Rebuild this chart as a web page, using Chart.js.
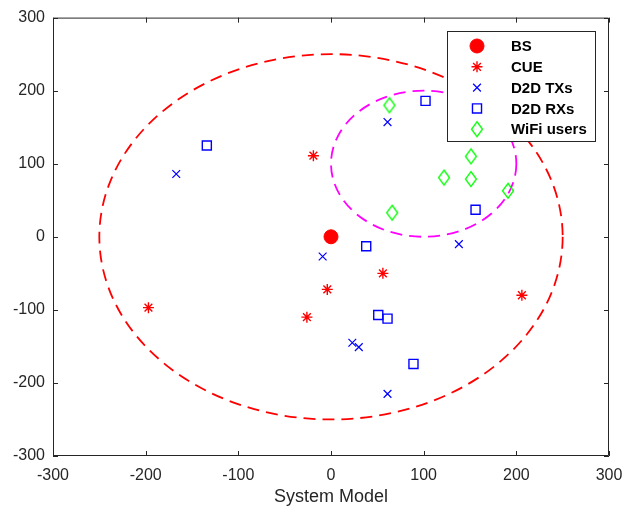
<!DOCTYPE html>
<html>
<head>
<meta charset="utf-8">
<title>System Model</title>
<script src="https://cdn.jsdelivr.net/npm/chart.js@4"></script>
<style>
  html, body { margin: 0; padding: 0; background: #fff; }
  #wrap { width: 622px; height: 508px; }
</style>
</head>
<body>
<div id="wrap"><canvas id="sysChart" width="622" height="508"></canvas></div>
<script>
// posisi node (meter)
const bsX = [0];
const bsY = [0];
const cueX = [-19, -197, -4, -26, 56, 206];
const cueY = [111, -97, -72, -110, -50, -80];
const txX = [-167, -9, 61, 138, 23, 30, 61];
const txY = [86, -27, 157, -10, -145, -151, -215];
const rxX = [-134, 102, 156, 38, 51, 61, 89];
const rxY = [125, 186, 37, -13, -107, -112, -174];
const wifiX = [63, 151, 122, 151, 191, 66];
const wifiY = [180, 110, 81, 79, 63, 33];

const legendLabels = ["BS", "CUE", "D2D TXs", "D2D RXs", "WiFi users"];
const axisTicks = [-300, -200, -100, 0, 100, 200, 300];

// lingkaran cakupan: [cx, cy, r]
const cellCircle = [0, 0, 250];
const wifiCircle = [100, 100, 100];

const FONT = "'Liberation Sans', Arial, Helvetica, sans-serif";
const AXIS_COLOR = "#262626";

function pts(xs, ys) {
  return xs.map((x, i) => ({ x: x, y: ys[i] }));
}

// diamond memanjang ala MATLAB
function makeDiamond(color) {
  const c = document.createElement("canvas");
  c.width = 14; c.height = 18;
  const g = c.getContext("2d");
  g.strokeStyle = color;
  g.lineWidth = 1.3;
  g.beginPath();
  g.moveTo(7, 1.5);
  g.lineTo(12.5, 9);
  g.lineTo(7, 16.5);
  g.lineTo(1.5, 9);
  g.closePath();
  g.stroke();
  return c;
}
const diamond = makeDiamond("#00ff00");

const circlePlugin = {
  id: "circles",
  beforeDatasetsDraw(chart) {
    const { ctx, scales: { x, y } } = chart;
    const draw = (circ, color) => {
      const cx = x.getPixelForValue(circ[0]);
      const cy = y.getPixelForValue(circ[1]);
      const rx = Math.abs(x.getPixelForValue(circ[0] + circ[2]) - cx);
      const ry = Math.abs(y.getPixelForValue(circ[1] + circ[2]) - cy);
      ctx.save();
      ctx.strokeStyle = color;
      ctx.lineWidth = 1.8;
      ctx.setLineDash([12, 7]);
      ctx.beginPath();
      ctx.ellipse(cx, cy, rx, ry, 0, 0, Math.PI * 2);
      ctx.stroke();
      ctx.restore();
    };
    draw(cellCircle, "#ff0000");
    draw(wifiCircle, "#ff00ff");
  }
};

const boxPlugin = {
  id: "box",
  afterDatasetsDraw(chart) {
    const { ctx, chartArea: a, scales: { x, y } } = chart;
    ctx.save();
    ctx.strokeStyle = AXIS_COLOR;
    ctx.lineWidth = 1;
    ctx.beginPath();
    ctx.rect(a.left + 0.5, a.top + 0.5, a.right - a.left - 1, a.bottom - a.top - 1);
    const tl = 5;
    axisTicks.forEach(v => {
      const px = Math.round(x.getPixelForValue(v)) + 0.5;
      ctx.moveTo(px, a.bottom); ctx.lineTo(px, a.bottom - tl);
      ctx.moveTo(px, a.top); ctx.lineTo(px, a.top + tl);
      const py = Math.round(y.getPixelForValue(v)) + 0.5;
      ctx.moveTo(a.left, py); ctx.lineTo(a.left + tl, py);
      ctx.moveTo(a.right, py); ctx.lineTo(a.right - tl, py);
    });
    ctx.stroke();
    ctx.restore();
  },
  afterDraw(chart) {
    const ctx = chart.ctx;
    const bx = 447, by = 31, bw = 148, bh = 110;
    ctx.save();
    ctx.fillStyle = "#fff";
    ctx.fillRect(bx, by, bw, bh);
    ctx.strokeStyle = AXIS_COLOR;
    ctx.lineWidth = 1;
    ctx.strokeRect(bx + 0.5, by + 0.5, bw, bh);
    ctx.font = "bold 15px " + FONT;
    ctx.textBaseline = "middle";
    chart.data.datasets.forEach((ds, i) => {
      const yy = by + 15 + i * 20.8;
      ctx.save();
      ctx.strokeStyle = ds.borderColor;
      ctx.fillStyle = ds.backgroundColor;
      ctx.lineWidth = ds.borderWidth;
      Chart.helpers.drawPoint(ctx, {
        pointStyle: ds.pointStyle,
        radius: ds.pointRadius,
        rotation: 0,
        borderWidth: ds.borderWidth
      }, 477, yy);
      ctx.restore();
      ctx.fillStyle = "#000";
      ctx.fillText(legendLabels[i], 511, yy + 1);
    });
    ctx.restore();
  }
};

new Chart(document.getElementById("sysChart"), {
  type: "scatter",
  data: {
    datasets: [
      {
        label: legendLabels[0], data: pts(bsX, bsY),
        pointStyle: "circle", pointRadius: 7,
        backgroundColor: "#ff0000", borderColor: "#ff0000", borderWidth: 1
      },
      {
        label: legendLabels[1], data: pts(cueX, cueY),
        pointStyle: "star", pointRadius: 5.5,
        backgroundColor: "#ff0000", borderColor: "#ff0000", borderWidth: 1.4
      },
      {
        label: legendLabels[2], data: pts(txX, txY),
        pointStyle: "crossRot", pointRadius: 5.5,
        backgroundColor: "#0000ff", borderColor: "#0000ff", borderWidth: 1.2
      },
      {
        label: legendLabels[3], data: pts(rxX, rxY),
        pointStyle: "rect", pointRadius: 6.4,
        backgroundColor: "rgba(0,0,0,0)", borderColor: "#0000ff", borderWidth: 1.4
      },
      {
        label: legendLabels[4], data: pts(wifiX, wifiY),
        pointStyle: diamond, pointRadius: 7,
        backgroundColor: "rgba(0,0,0,0)", borderColor: "#00ff00", borderWidth: 1.3
      }
    ]
  },
  options: {
    responsive: false,
    animation: false,
    layout: { padding: { left: 0, right: 0, top: 17, bottom: 0 } },
    plugins: { legend: { display: false }, tooltip: { enabled: false } },
    scales: {
      x: {
        type: "linear", min: -300, max: 300,
        afterBuildTicks: s => { s.ticks = axisTicks.map(v => ({ value: v })); },
        afterFit: s => { s.height = 52; s.paddingRight = 13; },
        grid: { display: false, drawTicks: false },
        border: { display: false },
        ticks: { color: AXIS_COLOR, font: { family: FONT, size: 16 }, padding: 10, maxRotation: 0 },
        title: { display: true, text: "System Model", color: AXIS_COLOR,
                 font: { family: FONT, size: 18 }, padding: { top: 0, bottom: 0 } }
      },
      y: {
        type: "linear", min: -300, max: 300,
        afterBuildTicks: s => { s.ticks = axisTicks.map(v => ({ value: v })); },
        afterFit: s => { s.width = 53; },
        grid: { display: false, drawTicks: false },
        border: { display: false },
        ticks: { color: AXIS_COLOR, font: { family: FONT, size: 16 }, padding: 8 }
      }
    }
  },
  plugins: [circlePlugin, boxPlugin]
});
</script>
</body>
</html>
